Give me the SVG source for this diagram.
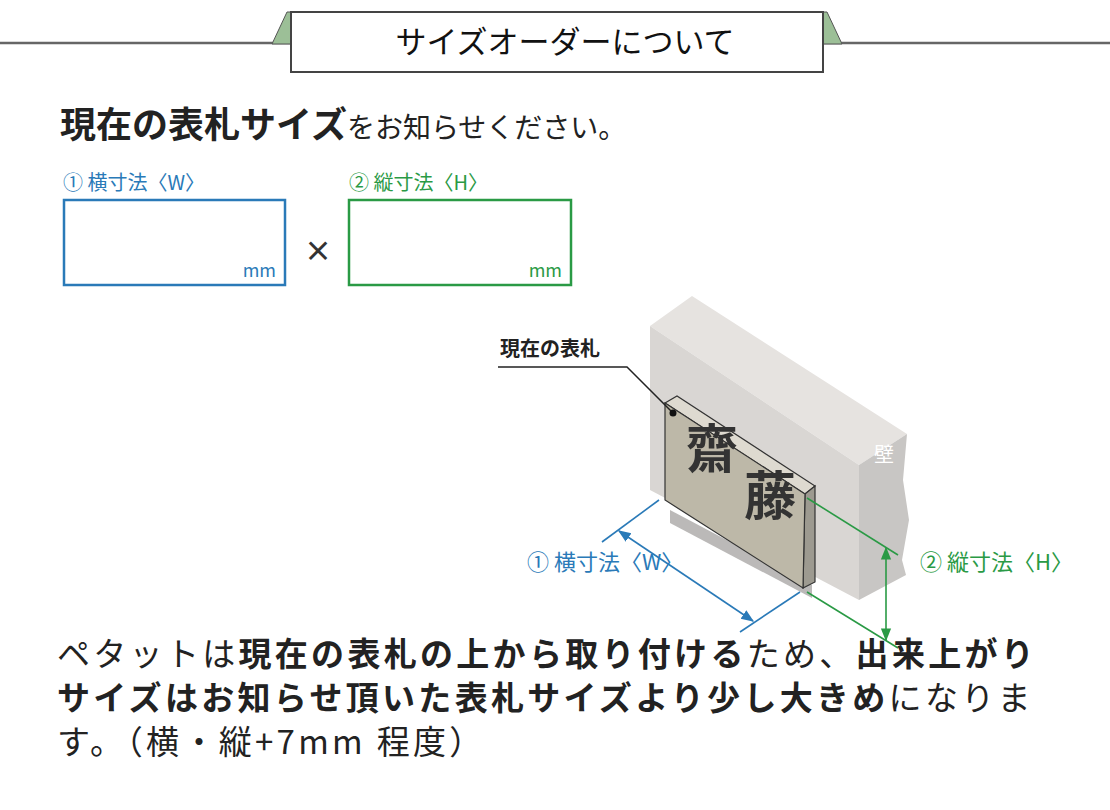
<svg xmlns="http://www.w3.org/2000/svg" width="1110" height="810" viewBox="0 0 1110 810">
<style>
text{font-family:"Noto Sans CJK JP","Noto Sans",sans-serif;}
.b{font-weight:bold}
.body{font-size:33px;letter-spacing:3.3px;fill:#222}
.blue{fill:#2a7ab8}.green{fill:#2a9a45}
</style>
<defs>
<marker id="ab" viewBox="0 0 10 10" refX="9" refY="5" markerWidth="8" markerHeight="8" orient="auto-start-reverse"><path d="M0,1L10,5L0,9z" fill="#2a7ab8"/></marker>
<marker id="ag" viewBox="0 0 10 10" refX="9" refY="5" markerWidth="8" markerHeight="8" orient="auto-start-reverse"><path d="M0,1L10,5L0,9z" fill="#2a9a45"/></marker>
</defs>
<rect width="1110" height="810" fill="#fff"/>
<g id="header">
<line x1="0" y1="43" x2="1110" y2="43" stroke="#666" stroke-width="2.5"/>
<polygon points="272,44 287,12 291,12 291,44" fill="#9cbf97" stroke="#555"/>
<polygon points="823,12 827,12 842,44 823,44" fill="#9cbf97" stroke="#555"/>
<rect x="291" y="12" width="532" height="60" fill="#fff" stroke="#444" stroke-width="2"/>
<text x="565" y="53" font-size="31" text-anchor="middle" fill="#111">サイズオーダーについて</text>
</g>
<g id="title">
<text x="60" y="138"><tspan class="b" font-size="36" fill="#222">現在の表札サイズ</tspan><tspan font-size="28" fill="#222">をお知らせください。</tspan></text>
</g>
<g id="width-box">
<text x="63" y="190" font-size="20" class="blue">① 横寸法〈W〉</text>
<rect x="64" y="200" width="221" height="85" fill="#fff" stroke="#2a7ab8" stroke-width="2.5"/>
<text x="276" y="277" font-size="18" text-anchor="end" class="blue">mm</text>
</g>
<text x="318" y="262" font-size="28" text-anchor="middle" fill="#333" class="b">×</text>
<g id="height-box">
<text x="349" y="190" font-size="20" class="green">② 縦寸法〈H〉</text>
<rect x="349" y="200" width="222" height="85" fill="#fff" stroke="#2a9a45" stroke-width="2.5"/>
<text x="562" y="277" font-size="18" text-anchor="end" class="green">mm</text>
</g>
<g id="wall">
<polygon points="650,326 692,296 907,434 859,465" fill="#e6e3e0"/>
<polygon points="650,326 859,465 859,600 650,490" fill="#d9d6d3"/>
<polygon points="859,465 907,434 903,480 909,520 902,560 906,575 859,600" fill="#c8c6c4"/>
<text x="884" y="462" font-size="20" fill="#fff" text-anchor="middle">壁</text>
</g>
<g id="sign">
<polygon points="670,510 812,585 812,598 670,523" fill="#aaa8a6" opacity="0.8"/>
<polygon points="665,403 677,396 815,486 805,494" fill="#dedad0" stroke="#333" stroke-width="1.2"/>
<polygon points="805,494 815,486 815,582 803,588" fill="#9d9a90" stroke="#333" stroke-width="1.2"/>
<polygon points="665,403 805,494 803,588 665,500" fill="#bdb8a8" stroke="#333" stroke-width="1.2"/>
<text x="712" y="468" font-size="52" font-family="Noto Serif CJK JP,Noto Sans CJK JP,serif" class="b" fill="#333" text-anchor="middle">齋</text>
<text x="770" y="515" font-size="52" font-family="Noto Serif CJK JP,Noto Sans CJK JP,serif" class="b" fill="#333" text-anchor="middle">藤</text>
</g>
<g id="label">
<text x="500" y="356" font-size="20" class="b" fill="#222">現在の表札</text>
<polyline points="498,367 627,367 673,413" fill="none" stroke="#222" stroke-width="1.5"/>
<circle cx="673" cy="413" r="3.5" fill="#111"/>
</g>
<g id="connectors" stroke-width="1.6" fill="none">
<line x1="659" y1="500" x2="602" y2="542" stroke="#2a7ab8"/>
<line x1="800" y1="592" x2="740" y2="632" stroke="#2a7ab8"/>
<line x1="619" y1="531" x2="753" y2="621" stroke="#2a7ab8" marker-start="url(#ab)" marker-end="url(#ab)"/>
<line x1="807" y1="498" x2="898" y2="555" stroke="#2a9a45"/>
<line x1="807" y1="592" x2="898" y2="648" stroke="#2a9a45"/>
<line x1="886" y1="548" x2="886" y2="640" stroke="#2a9a45" marker-start="url(#ag)" marker-end="url(#ag)"/>
</g>
<text x="527" y="570" font-size="22" class="blue">① 横寸法〈W〉</text>
<text x="920" y="570" font-size="22" class="green">② 縦寸法〈H〉</text>
<g id="body" class="body">
<text x="57" y="666">ペタットは<tspan class="b">現在の表札の上から取り付ける</tspan>ため、<tspan class="b">出来上がり</tspan></text>
<text x="57" y="710"><tspan class="b">サイズはお知らせ頂いた表札サイズより少し大きめ</tspan>になりま</text>
<text x="57" y="754">す。（横・縦+7mm 程度）</text>
</g>
</svg>
